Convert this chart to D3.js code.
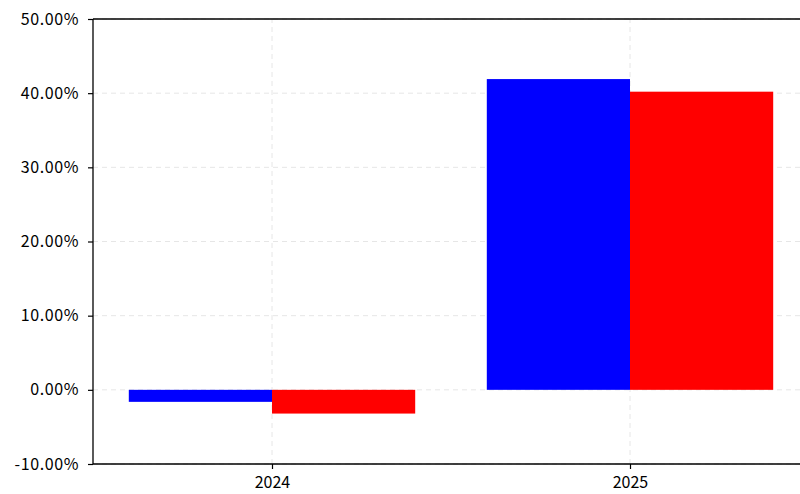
<!DOCTYPE html>
<html>
<head>
<meta charset="utf-8">
<script src="https://cdn.jsdelivr.net/npm/d3@7"></script>
<style>
  body { margin: 0; background: #fff; }
  svg { display: block; }
  .tick text { font-family: "Noto Sans CJK SC", "DejaVu Sans", sans-serif; font-size: 16px; fill: #000; }
  .ytick .tick text { letter-spacing: 0.6px; }
</style>
</head>
<body>
<div id="chart"></div>
<script>
// Chart data
const years = [2024, 2025];
const seriesBlue = [-1.62, 41.9];
const seriesRed = [-3.2, 40.2];
const yTicks = [-10, 0, 10, 20, 30, 40, 50];

const W = 800, H = 494;
const margin = { top: 19, left: 93, bottom: 30 };
const plotH = H - margin.top - margin.bottom; // 445

const svg = d3.select('#chart').append('svg')
  .attr('width', W)
  .attr('height', H);

// x axis in data units (category index), limits -0.5..1.5 like matplotlib
const x = d3.scaleLinear()
  .domain([-0.5, 1.5])
  .range([margin.left, margin.left + 716]);

const y = d3.scaleLinear()
  .domain([-10, 50])
  .range([margin.top + plotH, margin.top]);

const barW = 0.4;

// grid lines
const grid = svg.append('g');
grid.selectAll('.hgrid')
  .data(yTicks)
  .enter()
  .append('line')
  .attr('x1', margin.left)
  .attr('x2', W)
  .attr('y1', d => y(d))
  .attr('y2', d => y(d))
  .attr('stroke', '#e6e6e6')
  .attr('stroke-width', 1)
  .attr('stroke-dasharray', '5,4');

grid.selectAll('.vgrid')
  .data(years)
  .enter()
  .append('line')
  .attr('x1', (d, i) => x(i))
  .attr('x2', (d, i) => x(i))
  .attr('y1', y(-10))
  .attr('y2', y(50))
  .attr('stroke', '#e6e6e6')
  .attr('stroke-width', 1)
  .attr('stroke-dasharray', '5,4');

// bars
function drawBars(values, offset, color) {
  svg.append('g').selectAll('rect')
    .data(values)
    .enter()
    .append('rect')
    .attr('x', (d, i) => x(i + offset))
    .attr('width', x(barW) - x(0))
    .attr('y', d => y(Math.max(0, d)))
    .attr('height', d => Math.abs(y(d) - y(0)))
    .attr('fill', color);
}
drawBars(seriesBlue, -barW, '#0000ff');
drawBars(seriesRed, 0, '#ff0000');

// axes
const yAxis = d3.axisLeft(y)
  .tickValues(yTicks)
  .tickSize(5)
  .tickPadding(9)
  .tickFormat(d => d.toFixed(2) + '%');

const gy = svg.append('g')
  .attr('class', 'ytick')
  .attr('transform', `translate(${margin.left},0)`)
  .call(yAxis);
gy.select('.domain').remove();
gy.selectAll('.tick line').attr('stroke', '#000').attr('stroke-width', 1.2);

const xAxis = d3.axisBottom(x)
  .tickValues([0, 1])
  .tickSize(5)
  .tickPadding(8)
  .tickFormat(d => years[d]);

const gx = svg.append('g')
  .attr('transform', `translate(0,${y(-10)})`)
  .call(xAxis);
gx.select('.domain').remove();
gx.selectAll('.tick line').attr('stroke', '#000').attr('stroke-width', 1.2);

// spines
svg.append('line')
  .attr('x1', margin.left).attr('x2', margin.left)
  .attr('y1', y(50)).attr('y2', y(-10))
  .attr('stroke', '#000').attr('stroke-width', 1.3);
svg.append('line')
  .attr('x1', margin.left).attr('x2', W)
  .attr('y1', y(50)).attr('y2', y(50))
  .attr('stroke', '#000').attr('stroke-width', 1.3);
svg.append('line')
  .attr('x1', margin.left).attr('x2', W)
  .attr('y1', y(-10)).attr('y2', y(-10))
  .attr('stroke', '#000').attr('stroke-width', 1.3);
</script>
</body>
</html>
